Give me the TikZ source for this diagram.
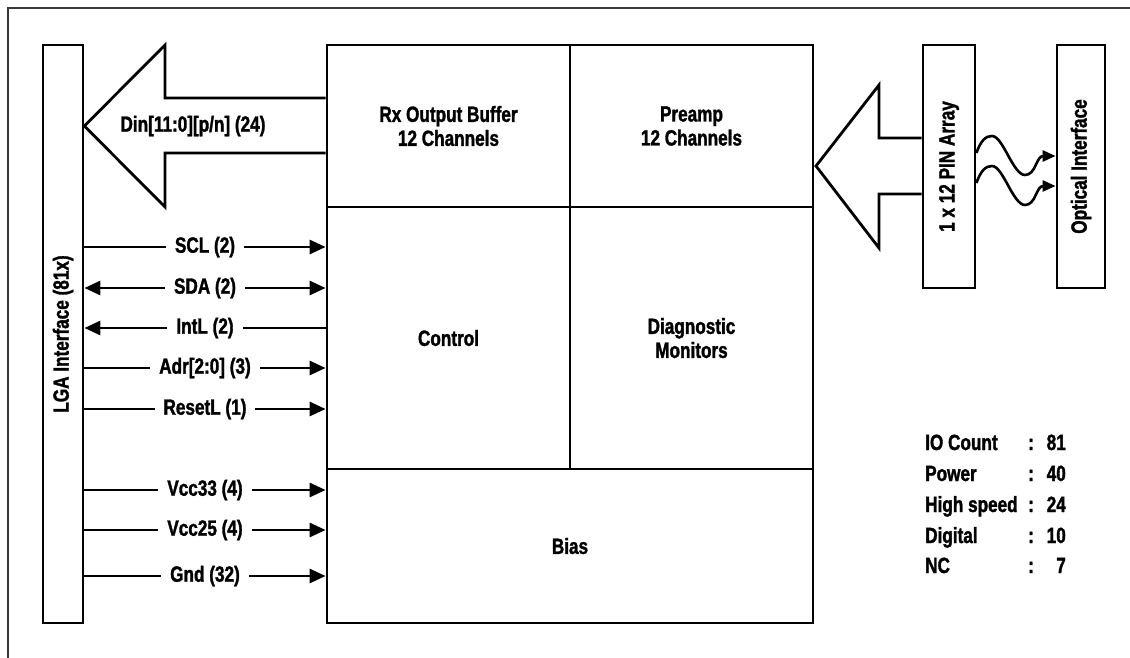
\documentclass[tikz,border=0pt]{standalone}
\usepackage{fontspec}
\setmainfont{Liberation Sans}[FakeStretch=0.78,BoldFeatures={FakeBold=1.5}]
\usetikzlibrary{arrows.meta,calc}
\begin{document}
\begin{tikzpicture}[x=1pt,y=-1pt,
  txt/.style={font=\bfseries\fontsize{22}{24}\selectfont},
  blk/.style={draw,line width=2.8pt,inner sep=0pt,txt,align=center},
  sig/.style={line width=2.8pt},
  tipf/.style={-{Triangle[length=16pt,width=14pt]}},
  tipb/.style={{Triangle[length=16pt,width=14pt]}-},
  tipfb/.style={{Triangle[length=16pt,width=14pt]}-{Triangle[length=16pt,width=14pt]}},
  lbl/.style={fill=white,inner xsep=9pt,inner ysep=2pt,txt},
  big/.style={line width=2.8pt,line join=miter},
  wave/.style={line width=2.6pt,-{Triangle[length=13pt,width=11pt]}},
  stat/.style={anchor=base west,inner sep=0pt,txt}
]
\useasboundingbox (0,0) rectangle (1130,658);
% outer frame
\draw[line width=2.2pt,color=black!78] (8,662) -- (8,8) -- (1134,8);

% nodes
\node[blk,minimum width=40pt,minimum height=578pt] (lga) at (63,334) {};
\node[rotate=90,txt] (lgat) at (lga.center) {LGA Interface (81x)};
\node[blk,minimum width=243pt,minimum height=162pt] (rx) at (448.5,126) {Rx Output Buffer\\12 Channels};
\node[blk,minimum width=243pt,minimum height=162pt] (pre) at (691.5,126) {Preamp\\12 Channels};
\node[blk,minimum width=243pt,minimum height=262pt] (ctrl) at (448.5,338) {Control};
\node[blk,minimum width=243pt,minimum height=262pt] (diag) at (691.5,338) {Diagnostic\\Monitors};
\node[blk,minimum width=486pt,minimum height=154pt] (bias) at (570,546) {Bias};
\node[blk,minimum width=52pt,minimum height=243pt] (pin) at (949,166.5) {};
\node[rotate=90,txt] (pint) at (pin.center) {1 x 12 PIN Array};
\node[blk,minimum width=48pt,minimum height=243pt] (opt) at (1081,166.5) {};
\node[rotate=90,txt] (optt) at (opt.center) {Optical Interface};

% big arrow Din
\draw[big] (rx.west |- 0,98) -- (165,98) -- (165,45) -- (lga.east |- 0,126) -- (165,207) -- (165,153) -- (rx.west |- 0,153);
\node[txt] (din) at (193,126) {Din[11:0][p/n] (24)};

% big arrow from PIN array
\draw[big] (pin.west |- 0,138) -- (879,138) -- (879,85) -- (816,166) -- (879,248) -- (879,194) -- (pin.west |- 0,194);

% waves
\draw[wave] (pin.east |- 0,153) .. controls (981,140) and (986,136) .. (992,136)
  .. controls (1003,136) and (1013,175) .. (1025,175)
  .. controls (1036,175) and (1036,156) .. (opt.west |- 0,156);
\draw[wave] (pin.east |- 0,183) .. controls (981,170) and (986,166) .. (992,166)
  .. controls (1003,166) and (1013,205) .. (1025,205)
  .. controls (1036,205) and (1036,186) .. (opt.west |- 0,186);

% signals
\draw[sig,tipf] (lga.east |- 0,247) -- node[lbl] (l1) {SCL (2)} (ctrl.west |- 0,247);
\draw[sig,tipfb] (lga.east |- 0,288) -- node[lbl] (l2) {SDA (2)} (ctrl.west |- 0,288);
\draw[sig,tipb] (lga.east |- 0,328) -- node[lbl] (l3) {IntL (2)} (ctrl.west |- 0,328);
\draw[sig,tipf] (lga.east |- 0,368) -- node[lbl] (l4) {Adr[2:0] (3)} (ctrl.west |- 0,368);
\draw[sig,tipf] (lga.east |- 0,409) -- node[lbl] (l5) {ResetL (1)} (ctrl.west |- 0,409);
\draw[sig,tipf] (lga.east |- 0,490) -- node[lbl] (l6) {Vcc33 (4)} (bias.west |- 0,490);
\draw[sig,tipf] (lga.east |- 0,530) -- node[lbl] (l7) {Vcc25 (4)} (bias.west |- 0,530);
\draw[sig,tipf] (lga.east |- 0,576) -- node[lbl] (l8) {Gnd (32)} (bias.west |- 0,576);

% stats
\foreach \n/\t/\v/\y in {s1/IO Count/81/450, s2/Power/40/481, s3/High speed/24/512, s4/Digital/10/543, s5/NC/7/573}{
  \node[stat] (\n a) at (925,\y) {\t};
  \node[stat] (\n b) at (1028,\y) {:};
  \node[stat,anchor=base east] (\n c) at (1066,\y) {\v};
}
\end{tikzpicture}
\end{document}
